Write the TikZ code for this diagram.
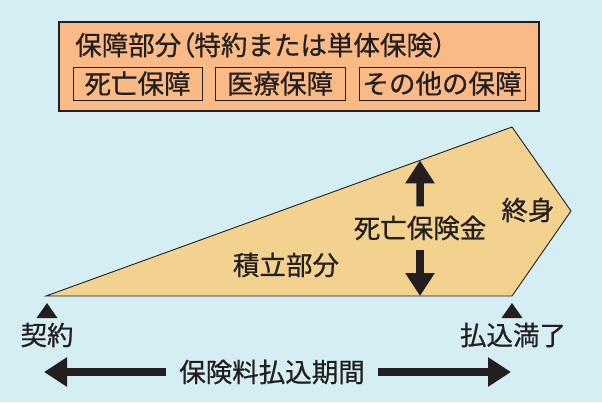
\documentclass[tikz,border=0pt]{standalone}
\usepackage{fontspec}
\setmainfont{Noto Sans CJK JP}[FakeBold=0.7]
\usetikzlibrary{arrows.meta, calc}
\definecolor{skybg}{HTML}{D5EEF3}
\definecolor{riderorange}{HTML}{F9BA85}
\definecolor{savingtan}{HTML}{F3D18E}
\definecolor{inkblack}{HTML}{231F20}

\begin{document}
\begin{tikzpicture}[x=1pt, y=-1pt, line join=miter]

  % Styles for text, boxes and the thick arrows
  \tikzset{
    jptext/.style={font=\fontsize{26.5}{30}\selectfont, text=inkblack, inner sep=0pt},
    subbox/.style={jptext, draw=inkblack, line width=1pt, minimum height=33pt},
    bigarrow/.style={draw=inkblack, line width=7.5pt, -{Triangle[length=23pt, width=28pt]}}
  }

  % 0. Background and page size
  \fill[skybg] (0,0) rectangle (602,402);
  \useasboundingbox (0,0) rectangle (602,402);

  % 1. Rider box (top)
  \draw[fill=riderorange, draw=inkblack, line width=1.5pt] (59,22) rectangle (539,111);
  \node[jptext, anchor=west] (title) at (75,45)
    {保障部分{\addfontfeature{RawFeature=+palt}（}特約または単体保険{\addfontfeature{RawFeature=+palt}）}};
  \node[subbox, minimum width=129pt] (death)   at (137.5,83.5) {死亡保障};
  \node[subbox, minimum width=130pt] (medical) at (280,83.5)   {医療保障};
  \node[subbox, minimum width=166pt] (other)   at (442,83.5)   {その他の保障};

  % 2. Policy shape vertices
  \coordinate (start)  at (46,296);
  \coordinate (peak)   at (512,127);
  \coordinate (tip)    at (571,211);
  \coordinate (paidup) at (512,296);

  \draw[fill=savingtan, draw=inkblack, line width=0.9pt] (start) -- (peak) -- (tip) -- (paidup) -- cycle;

  % Death benefit arrow (from the label up to the slope, down to the base)
  \coordinate (benefittop) at ($(start)!0.8026!(peak)$);
  \coordinate (benefitbot) at (420,296);
  \node[jptext, minimum height=43pt] (benefit) at (420,228) {死亡保険金};
  \draw[bigarrow] (benefit.north) -- (benefittop);
  \draw[bigarrow] (benefit.south) -- (benefitbot);

  \node[jptext] (saving) at (286,265) {積立部分};
  \node[jptext] (whole)  at (528,210) {終身};

  % 3. Time markers and labels
  \fill[inkblack] (47,303) -- (57.5,318) -- (36.5,318) -- cycle;
  \fill[inkblack] (512,303) -- (522.5,318) -- (501.5,318) -- cycle;
  \node[jptext] (contract) at (47,335)  {契約};
  \node[jptext] (payend)   at (513,335) {払込満了};

  % 4. Premium payment period arrow
  \coordinate (periodleft)  at (44,372);
  \coordinate (periodright) at (511,372);
  \node[jptext, inner xsep=13pt] (period) at (272,372) {保険料払込期間};
  \draw[bigarrow] (period.west) -- (periodleft);
  \draw[bigarrow] (period.east) -- (periodright);

\end{tikzpicture}
\end{document}
